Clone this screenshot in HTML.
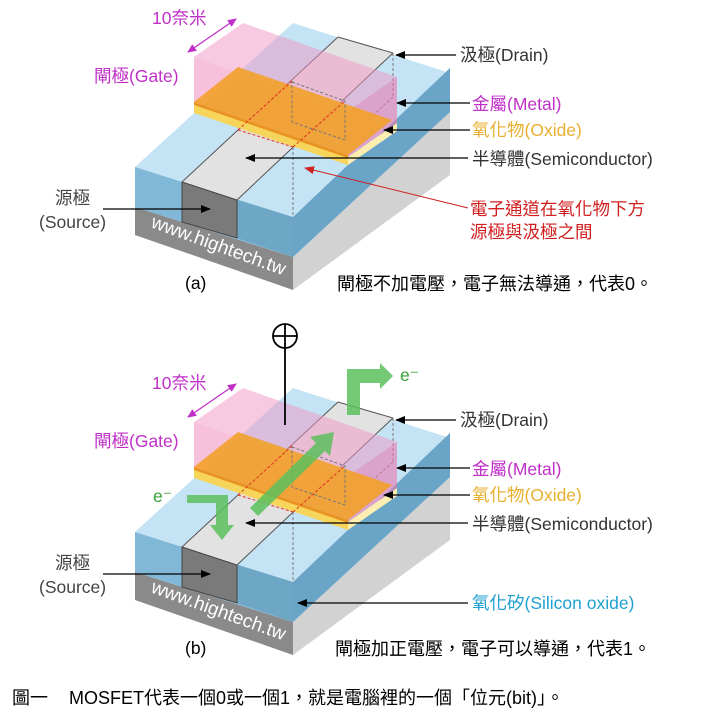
<!DOCTYPE html>
<html><head><meta charset="utf-8">
<style>
html,body{margin:0;padding:0;background:#fff;}
svg{display:block;}
text{font-family:"Liberation Sans","Noto Sans CJK TC",sans-serif;}
</style></head>
<body>
<svg width="722" height="722" viewBox="0 0 722 722" xmlns="http://www.w3.org/2000/svg">
<defs>
<marker id="ah" markerWidth="10" markerHeight="8" refX="9" refY="4" orient="auto" markerUnits="userSpaceOnUse">
<path d="M0,0 L10,4 L0,8 z" fill="#000"/></marker>
<marker id="ahr" markerWidth="10" markerHeight="8" refX="9" refY="4" orient="auto" markerUnits="userSpaceOnUse">
<path d="M0,0 L10,4 L0,8 z" fill="#d02020"/></marker>
<marker id="ahm" markerWidth="9" markerHeight="8" refX="8" refY="4" orient="auto-start-reverse" markerUnits="userSpaceOnUse">
<path d="M0,0 L9,4 L0,8 z" fill="#c030c8"/></marker>
<g id="dev">
  <polygon points="135,207 293,257 293,290 135,235" fill="#8a8a8a"/>
  <polygon points="293,257 450,112 450,175 293,290" fill="#d2d2d2"/>
  <polygon points="135,167 293,23 450,73 450,68 293,217" fill="#c4e3f4"/>
  <polygon points="293,217 450,68 450,112 293,257" fill="#6aa5c7"/>
  <polygon points="135,167 293,217 293,257 135,207" fill="#82b8d7"/>
  <polygon points="237,200 293,217 293,257 237,238" fill="#6ea6c6"/>
  <polygon points="182,182 237,200 393,53 338,37" fill="#e2e2e2"/>
  <polygon points="182,182 237,200 237,238 182,222" fill="#7a7a7a" stroke="#444" stroke-width="1"/>
  <line x1="182" y1="182" x2="338" y2="37" stroke="#555" stroke-width="1"/>
  <line x1="237" y1="200" x2="393" y2="53" stroke="#555" stroke-width="1"/>
  <line x1="338" y1="37" x2="393" y2="53" stroke="#555" stroke-width="1"/>
  <line x1="393" y1="53" x2="393" y2="97" stroke="#777" stroke-width="1" stroke-dasharray="3,2"/>
  <line x1="393" y1="97" x2="345" y2="140" stroke="#777" stroke-width="1" stroke-dasharray="3,2"/>
  <line x1="293" y1="147" x2="293" y2="215" stroke="#777" stroke-width="1" stroke-dasharray="3,2"/>
  <polygon points="194,105 348,157 348,165 194,113" fill="#f7d45a"/>
  <polygon points="348,157 397,123 397,131 348,165" fill="#fbeeb0"/>
  <polygon points="194,57 243,23 397,77 348,111" fill="rgb(240,150,195)" fill-opacity="0.5"/>
  <polygon points="348,111 397,77 397,123 348,157" fill="rgb(235,120,175)" fill-opacity="0.6"/>
  <polygon points="194,57 348,111 348,157 194,105" fill="rgb(240,140,190)" fill-opacity="0.55"/>
  <polygon points="194,102 238,67 392,120 348,155" fill="#f2a12a" fill-opacity="0.9"/>
  <polygon points="194,102 348,155 348,158 194,105" fill="#e99420"/>
  <polygon points="292,82 345,101 345,140 292,122" fill="none" stroke="#777" stroke-width="1" stroke-dasharray="3,2"/>
  <line x1="238" y1="130" x2="292" y2="81" stroke="#e03020" stroke-width="1" stroke-dasharray="3,2"/>
  <line x1="238" y1="130" x2="293" y2="147" stroke="#e03020" stroke-width="1" stroke-dasharray="3,2"/>
  <line x1="293" y1="147" x2="345" y2="101" stroke="#e03020" stroke-width="1" stroke-dasharray="3,2"/>
  <line x1="188" y1="52" x2="236" y2="19" stroke="#c030c8" stroke-width="1.3" marker-start="url(#ahm)" marker-end="url(#ahm)"/>
  <line x1="456" y1="55" x2="396" y2="55" stroke="#000" stroke-width="1.2" marker-end="url(#ah)"/>
  <line x1="470" y1="103" x2="397" y2="103" stroke="#000" stroke-width="1.2" marker-end="url(#ah)"/>
  <line x1="470" y1="130" x2="384" y2="130" stroke="#000" stroke-width="1.2" marker-end="url(#ah)"/>
  <line x1="468" y1="158" x2="246" y2="158" stroke="#000" stroke-width="1.2" marker-end="url(#ah)"/>
  <line x1="103" y1="209" x2="210" y2="209" stroke="#000" stroke-width="1.2" marker-end="url(#ah)"/>
</g>
</defs>

<use href="#dev"/>
<use href="#dev" transform="translate(0,365)"/>

<g font-size="17.5">
<text x="152" y="24" fill="#c030c8">10奈米</text>
<text x="94" y="82" fill="#c030c8">閘極(Gate)</text>
<text x="460" y="61" fill="#333">汲極(Drain)</text>
<text x="472" y="110" fill="#c030c8">金屬(Metal)</text>
<text x="472" y="136" fill="#e8b030">氧化物(Oxide)</text>
<text x="472" y="165" fill="#333">半導體(Semiconductor)</text>
<text x="470" y="215" fill="#d02020">電子通道在氧化物下方</text>
<text x="470" y="238" fill="#d02020">源極與汲極之間</text>
<text x="55" y="204" fill="#444">源極</text>
<text x="39" y="228" fill="#444">(Source)</text>
<text x="185" y="289" fill="#000">(a)</text>
<text x="337" y="290" fill="#000" font-size="18">閘極不加電壓，電子無法導通，代表0。</text>
<text x="150" y="227" fill="#fff" font-size="19" transform="rotate(20 150 227)">www.hightech.tw</text>
</g>
<line x1="468" y1="208" x2="305" y2="168" stroke="#d02020" stroke-width="1" marker-end="url(#ahr)"/>

<circle cx="285" cy="336" r="12" fill="none" stroke="#000" stroke-width="1.8"/>
<line x1="273" y1="336" x2="297" y2="336" stroke="#000" stroke-width="1.8"/>
<line x1="285" y1="324" x2="285" y2="425" stroke="#000" stroke-width="1.8"/>
<g fill="#5cc05c" fill-opacity="0.85">
  <polygon points="347,415 360,415 360,383 380,383 380,389 393,376 380,363 380,369 347,369"/>
  <polygon points="250,508 258,516 325,451 330,456 334,432 310,437 316,443"/>
  <polygon points="187,495 228,495 228,525 234,525 222,540 210,525 216,525 216,503 187,503"/>
</g>
<g font-size="17.5">
<text x="400" y="381" fill="#3aa03a">e⁻</text>
<text x="153" y="502" fill="#3aa03a">e⁻</text>
<text x="152" y="389" fill="#c030c8">10奈米</text>
<text x="94" y="447" fill="#c030c8">閘極(Gate)</text>
<text x="460" y="426" fill="#333">汲極(Drain)</text>
<text x="472" y="475" fill="#c030c8">金屬(Metal)</text>
<text x="472" y="501" fill="#e8b030">氧化物(Oxide)</text>
<text x="472" y="530" fill="#333">半導體(Semiconductor)</text>
<text x="472" y="609" fill="#20a0d0">氧化矽(Silicon oxide)</text>
<text x="55" y="569" fill="#444">源極</text>
<text x="39" y="593" fill="#444">(Source)</text>
<text x="185" y="654" fill="#000">(b)</text>
<text x="335" y="655" fill="#000" font-size="18">閘極加正電壓，電子可以導通，代表1。</text>
<text x="150" y="592" fill="#fff" font-size="19" transform="rotate(20 150 592)">www.hightech.tw</text>
<text x="12" y="704" fill="#000" font-size="18">圖一</text>
<text x="69" y="704" fill="#000" font-size="18">MOSFET代表一個0或一個1，就是電腦裡的一個「位元(bit)」。</text>
</g>
<line x1="468" y1="603" x2="298" y2="603" stroke="#000" stroke-width="1.2" marker-end="url(#ah)"/>
</svg>
</body></html>
